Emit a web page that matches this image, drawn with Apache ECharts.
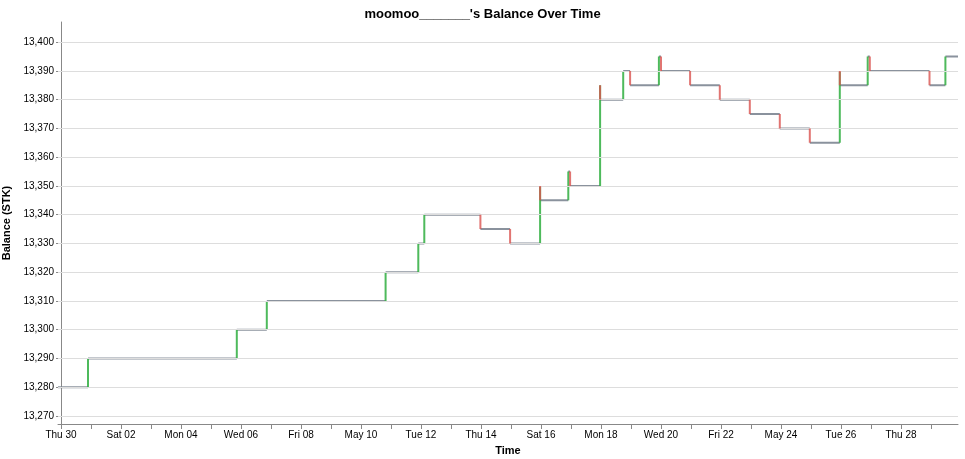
<!DOCTYPE html>
<html><head><meta charset="utf-8">
<script src="https://cdn.jsdelivr.net/npm/echarts@6/dist/echarts.min.js"></script>
<style>html,body{margin:0;background:#fff}#c{width:965px;height:459px}</style>
</head><body><div id="c"></div>
<script>
// x = days since Thu 30 (Apr), y = balance (STK)
const startDay = -0.1, endDay = 29.9, startBal = 13280;
// each move: vertical change at a day to a new level
const moveDays = [0.90, 5.86, 6.86, 10.82, 11.91, 12.11, 13.98, 14.97, 15.97, 15.97, 16.91, 16.97,
  17.97, 17.97, 18.74, 18.97, 19.93, 20.0, 20.97, 21.96, 22.96, 23.96, 24.96, 25.96, 25.96,
  26.89, 26.96, 28.95, 29.48];
const moveTo = [13290, 13300, 13310, 13320, 13330, 13340, 13335, 13330, 13350, 13345, 13355, 13350,
  13385, 13380, 13390, 13385, 13395, 13390, 13385, 13380, 13375, 13370, 13365, 13390, 13385,
  13395, 13390, 13385, 13395];
const tickDays = Array.from({length: 30}, (_, i) => i);
const tickLabels = ["Thu 30", "Sat 02", "Mon 04", "Wed 06", "Fri 08", "May 10", "Tue 12", "Thu 14",
  "Sat 16", "Mon 18", "Wed 20", "Fri 22", "May 24", "Tue 26", "Thu 28"];
const yTicks = [13270, 13280, 13290, 13300, 13310, 13320, 13330, 13340, 13350, 13360, 13370, 13380, 13390, 13400];

const GRAY = "#7d8692", GREEN = "#2fae3f", RED = "#d9534f";

const flat = [], up = [], down = [];
let day = startDay, lvl = startBal;
moveDays.forEach((d, i) => {
  if (d > day) { flat.push([day, lvl], [d, lvl], '-'); }
  const to = moveTo[i];
  (to > lvl ? up : down).push([d, lvl], [d, to], '-');
  day = d; lvl = to;
});
flat.push([day, lvl], [endDay, lvl]);

const seg = (name, data, color, z, op) => ({
  name, type: "line", data, symbol: "none", connectNulls: false, z,
  lineStyle: { color, width: 2, opacity: op }, itemStyle: { color }
});

const chart = echarts.init(document.getElementById("c"));
const axisClr = "#888", txt = "#000";
chart.setOption({
  animation: false,
  title: { text: "moomoo_______'s Balance Over Time", left: "center", top: 3,
    textStyle: { fontFamily: "Liberation Sans", fontSize: 13, fontWeight: "bold", color: txt } },
  grid: { left: 58, right: 7, top: 22, bottom: 35, containLabel: false, outerBoundsMode: "none" },
  xAxis: {
    type: "value", min: startDay, max: endDay,
    name: "Time", nameLocation: "middle", nameGap: 21,
    nameTextStyle: { fontFamily: "Liberation Sans", fontSize: 11, fontWeight: "bold", color: txt },
    axisLine: { lineStyle: { color: axisClr } },
    axisTick: { customValues: tickDays, length: 5, lineStyle: { color: axisClr } },
    axisLabel: { customValues: tickDays.filter(d => d % 2 === 0),
      formatter: v => tickLabels[Math.round(v) / 2] ?? "",
      fontFamily: "Liberation Sans", fontSize: 10, color: txt, margin: 6 },
    splitLine: { show: false }
  },
  yAxis: {
    type: "value", min: 13267.2, max: 13407,
    name: "Balance (STK)", nameLocation: "middle", nameGap: 45,
    nameTextStyle: { fontFamily: "Liberation Sans", fontSize: 11, fontWeight: "bold", color: txt },
    axisLine: { show: true, lineStyle: { color: axisClr } },
    axisTick: { show: true, customValues: yTicks, length: 5, lineStyle: { color: axisClr } },
    axisLabel: { customValues: yTicks, formatter: v => v.toLocaleString("en-US"),
      fontFamily: "Liberation Sans", fontSize: 10, color: txt, margin: 4 },
    splitLine: { show: false }
  },
  series: [
    { type: "line", data: [], markLine: { silent: true, symbol: "none", label: { show: false },
      lineStyle: { color: "#ddd", type: "solid", width: 1 },
      data: yTicks.map(v => ({ yAxis: v })) } },
    seg("flat", flat, GRAY, 3, 0.9),
    seg("up", up, GREEN, 4, 0.85),
    seg("down", down, RED, 5, 0.8)
  ]
});
</script></body></html>
